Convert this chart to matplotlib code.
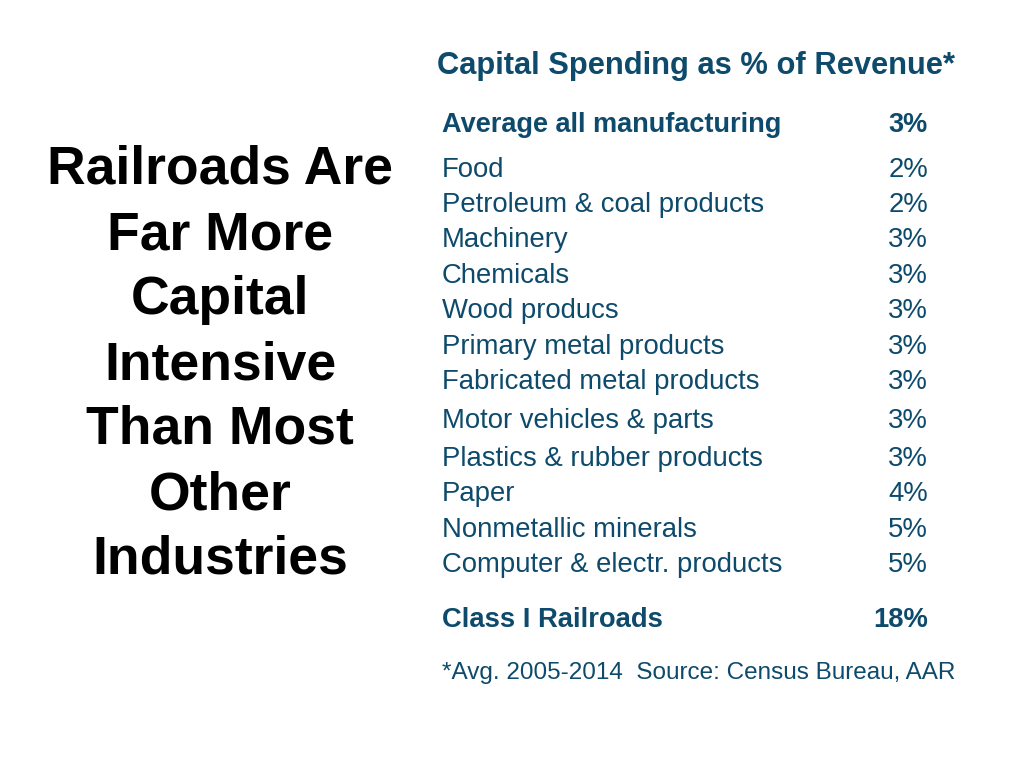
import matplotlib.pyplot as plt

FONT = 'Liberation Sans'
BLUE = '#0d4a6b'

headline = ["Railroads Are", "Far More", "Capital", "Intensive", "Than Most", "Other", "Industries"]

table_title = "Capital Spending as % of Revenue*"
avg_label = "Average all manufacturing"
avg_value = 3
industries = ["Food", "Petroleum & coal products", "Machinery", "Chemicals",
              "Wood producs", "Primary metal products", "Fabricated metal products",
              "Motor vehicles & parts", "Plastics & rubber products", "Paper",
              "Nonmetallic minerals", "Computer & electr. products"]
values = [2, 2, 3, 3, 3, 3, 3, 3, 3, 4, 5, 5]
rail_label = "Class I Railroads"
rail_value = 18
footnote = "*Avg. 2005-2014  Source: Census Bureau, AAR"

# layout (pixel rows, top-down)
row_y = [170, 205, 240, 276, 311, 347, 382, 421, 459, 494, 530, 565]

fig = plt.figure(figsize=(10.24, 7.68), dpi=100)
ax = fig.add_axes([0, 0, 1, 1])
ax.set_xlim(0, 1024)
ax.set_ylim(768, 0)
ax.axis('off')

for i, line in enumerate(headline):
    ax.text(220, 170 + i * 65, line, ha='center', va='center', family=FONT,
            fontsize=38.5, fontweight='bold', color='black')

ax.text(696, 66, table_title, ha='center', va='center', family=FONT,
        fontsize=22.2, fontweight='bold', color=BLUE)

ax.text(442, 125, avg_label, ha='left', va='center', family=FONT,
        fontsize=19.5, fontweight='bold', color=BLUE)
ax.text(928, 125, f"{avg_value}%", ha='right', va='center', family=FONT,
        fontsize=19.5, fontweight='bold', color=BLUE)

for y, name, v in zip(row_y, industries, values):
    ax.text(442, y, name, ha='left', va='center', family=FONT, fontsize=19.8, color=BLUE)
    ax.text(928, y, f"{v}%", ha='right', va='center', family=FONT, fontsize=19.8, color=BLUE)

ax.text(442, 620, rail_label, ha='left', va='center', family=FONT,
        fontsize=19.7, fontweight='bold', color=BLUE)
ax.text(928, 620, f"{rail_value}%", ha='right', va='center', family=FONT,
        fontsize=19.7, fontweight='bold', color=BLUE)

ax.text(442, 673, footnote, ha='left', va='center', family=FONT, fontsize=17.5, color=BLUE)

fig.savefig("out.png", dpi=100)
